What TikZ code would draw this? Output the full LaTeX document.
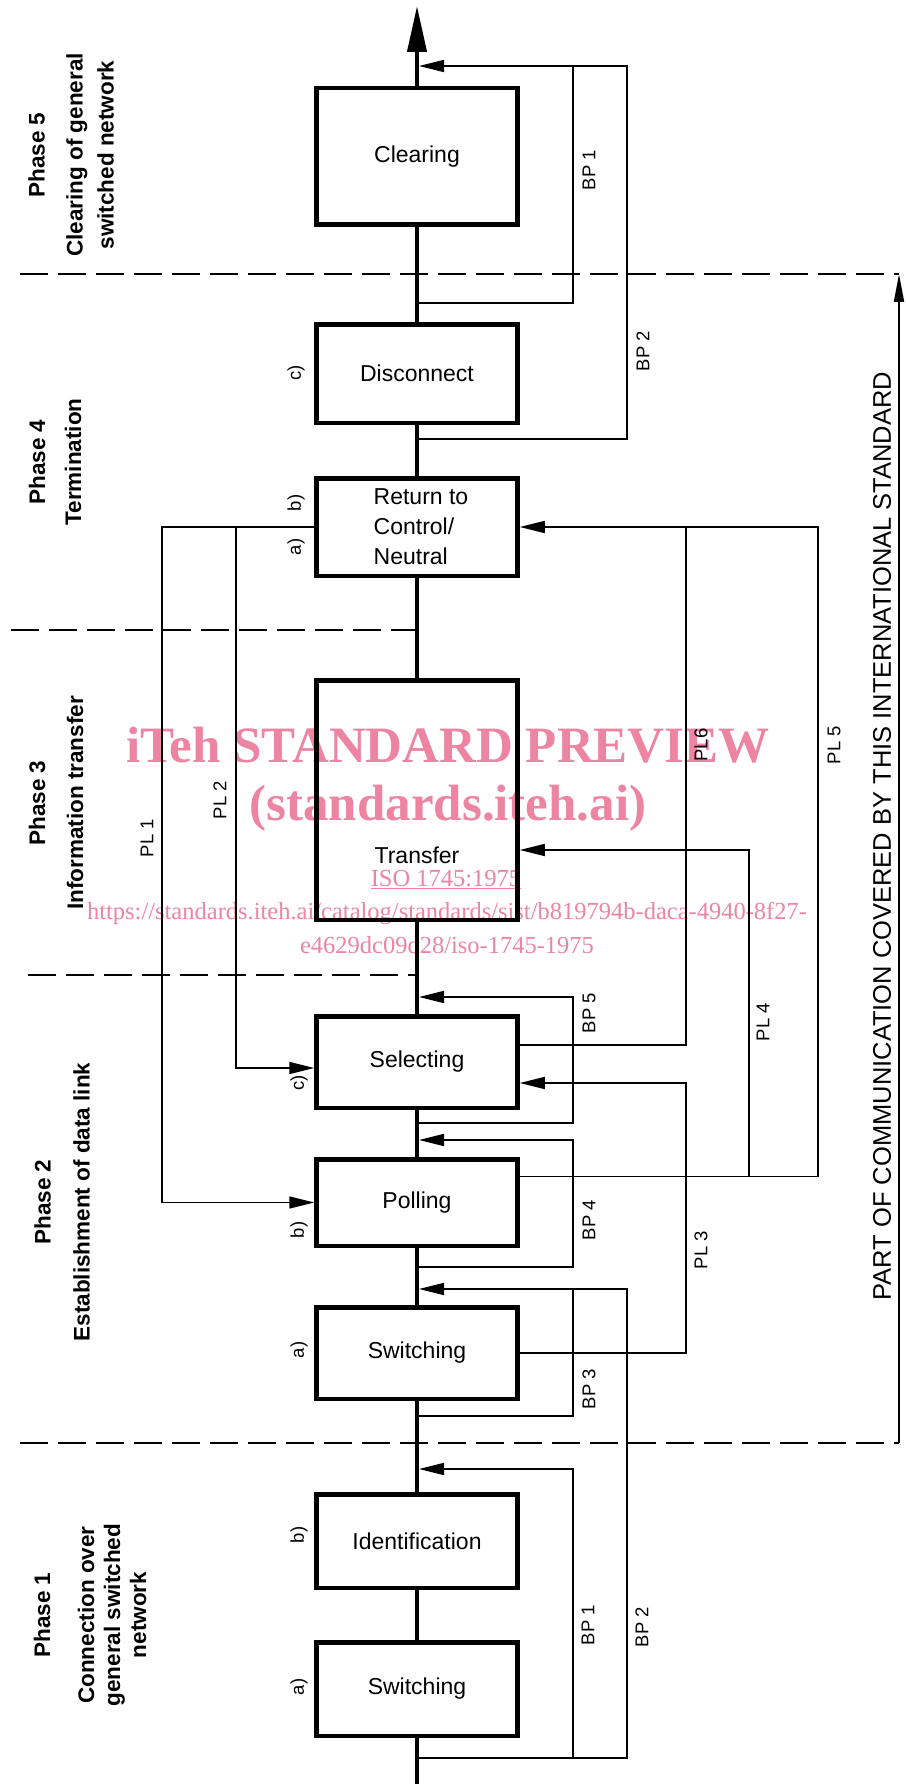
\documentclass[tikz,border=0pt]{standalone}
\usepackage{fontspec}
\setmainfont{Liberation Sans}
\newfontfamily\wmfont{Liberation Serif}
\usetikzlibrary{arrows.meta}
\definecolor{wmpink}{RGB}{236,132,162}

\begin{document}
\begin{tikzpicture}[x=1pt, y=-1pt,
    every node/.style={font=\fontsize{18.5}{22}\selectfont, inner sep=0pt},
    blok/.style={draw, line width=4.5pt, fill=white, minimum width=201pt,
        font=\fontsize{23}{30}\selectfont},
    lettr/.style={rotate=90},
    phasetxt/.style={rotate=90, align=center, font=\bfseries\fontsize{22.5}{26}\selectfont},
    mainln/.style={line width=4pt},
    fbln/.style={line width=1.6pt},
    arr/.style={-{Triangle[length=25pt,width=12pt]}},
    phaseln/.style={line width=2.2pt, dash pattern=on 28pt off 10pt},
    wmark/.style={text=wmpink, font=\wmfont\fontsize{24.5}{25}\selectfont}]
    \useasboundingbox (0,0) rectangle (905,1784);

    % Блоки
    \node[blok, minimum height=136.5pt] (clr) at (417,156.5) {Clearing};
    \node[blok, minimum height=98.5pt] (dis) at (417,373.5) {Disconnect};
    \node[blok, minimum height=97.5pt] (ret) at (417,527) {};
    \node[align=left, font=\fontsize{23}{30}\selectfont] (rett) at (421,527) {Return to\\Control/\\Neutral};
    \node[blok, minimum height=239.5pt] (trf) at (417,800) {};
    \node[font=\fontsize{23}{30}\selectfont] (trft) at (417,855) {Transfer};
    \node[blok, minimum height=91.5pt] (sel) at (417,1062) {Selecting};
    \node[blok, minimum height=86.5pt] (pol) at (417,1202.5) {Polling};
    \node[blok, minimum height=91.5pt] (swb) at (417,1353) {Switching};
    \node[blok, minimum height=93.5pt] (idn) at (417,1541) {Identification};
    \node[blok, minimum height=93.5pt] (swa) at (417,1689) {Switching};

    % Главная линия
    \coordinate (top) at (417,6);
    \coordinate (bot) at (417,1784);
    \draw[mainln, -{Triangle[length=46pt,width=19pt]}] (clr.north) -- (top);
    \draw[mainln] (clr.south) -- (dis.north) (dis.south) -- (ret.north)
        (ret.south) -- (trf.north) (trf.south) -- (sel.north)
        (sel.south) -- (pol.north) (pol.south) -- (swb.north)
        (swb.south) -- (idn.north) (idn.south) -- (swa.north)
        (swa.south) -- (bot);

    % Обходы BP, фаза 5
    \coordinate (bp1s) at (417,303);
    \coordinate (bp2s) at (417,439);
    \coordinate (bpin) at (419,66);
    \draw[fbln, arr] (bp1s) -| (573,66) -- (bpin);
    \draw[fbln] (bp2s) -| (627,66) -- (573,66);

    % Обходы BP, фазы 1 и 2
    \coordinate (bp5in) at (419,997);
    \coordinate (bp5s) at (417,1123);
    \coordinate (bp4in) at (419,1140);
    \coordinate (bp4s) at (417,1267);
    \coordinate (bp3in) at (419,1289);
    \coordinate (bp3s) at (417,1416);
    \coordinate (bp1in) at (419,1469);
    \coordinate (bp0s) at (417,1758);
    \draw[fbln, arr] (bp5s) -| (573,997) -- (bp5in);
    \draw[fbln, arr] (bp4s) -| (573,1140) -- (bp4in);
    \draw[fbln, arr] (bp3s) -| (573,1289) -- (bp3in);
    \draw[fbln, arr] (bp0s) -| (573,1469) -- (bp1in);
    \draw[fbln] (bp0s) -| (627,1289) -- (573,1289);

    % Линии PL
    \draw[fbln, arr] (ret.west) -| (162,1202.5) -- (pol.west);
    \draw[fbln, arr] (236,527) |- ([yshift=-6pt]sel.west);
    \draw[fbln, arr] ([yshift=17pt]sel.east) -| (686,527) -- (ret.east);
    \draw[fbln] ([yshift=26pt]pol.east) -| (818,527) -- (686,527);
    \draw[fbln, arr] (749,1176.5) |- ([yshift=-50pt]trf.east);
    \draw[fbln, arr] (swb.east) -| (686,1083) -- ([yshift=-21pt]sel.east);

    % Подписи линий
    \node[lettr] (lbp1) at (589,170) {BP 1};
    \node[lettr] (lbp2) at (643,351) {BP 2};
    \node[lettr] (lpl1) at (147,838) {PL 1};
    \node[lettr] (lpl2) at (220,800) {PL 2};
    \node[lettr] (lpl6) at (701,745) {PL6};
    \node[lettr] (lpl5) at (834,745) {PL 5};
    \node[lettr] (lpl4) at (763,1022) {PL 4};
    \node[lettr] (lbp5) at (589,1013) {BP 5};
    \node[lettr] (lbp4) at (589,1220) {BP 4};
    \node[lettr] (lpl3) at (701,1250) {PL 3};
    \node[lettr] (lbp3) at (589,1389) {BP 3};
    \node[lettr] (lbp1b) at (588,1625) {BP 1};
    \node[lettr] (lbp2b) at (642,1627) {BP 2};

    % Буквы у блоков
    \node[lettr] (ldis) at (296,373) {c)};
    \node[lettr] (lretb) at (296,503) {b)};
    \node[lettr] (lreta) at (296,547) {a)};
    \node[lettr] (lsel) at (299,1083) {c)};
    \node[lettr] (lpol) at (299,1230) {b)};
    \node[lettr] (lswb) at (299,1350) {a)};
    \node[lettr] (lidn) at (299,1535) {b)};
    \node[lettr] (lswa) at (299,1687) {a)};

    % Границы фаз
    \draw[phaseln] (20,274) -- (899,274);
    \draw[phaseln] (11,630) -- (417,630);
    \draw[phaseln] (28,975) -- (417,975);
    \draw[phaseln] (20,1443) -- (899,1443);

    % Фазы
    \node[phasetxt] (ph5) at (71,155) {Phase 5\\[12pt]Clearing of general\\[5pt]switched network};
    \node[phasetxt] (ph4) at (55,462) {Phase 4\\[10pt]Termination};
    \node[phasetxt] (ph3) at (56,803) {Phase 3\\[12pt]Information transfer};
    \node[phasetxt] (ph2) at (62,1202) {Phase 2\\[13pt]Establishment of data link};
    \node[phasetxt] (ph1) at (90,1615) {Phase 1\\[18pt]Connection over\\general switched\\network};

    % Область стандарта
    \coordinate (scb) at (899,1443);
    \coordinate (sct) at (899,274);
    \draw[line width=2pt, -{Triangle[length=28pt,width=10pt]}] (scb) -- (sct);
    \node[rotate=90, font=\fontsize{25.5}{30}\selectfont] (scope) at (882,836)
        {PART OF COMMUNICATION COVERED BY THIS INTERNATIONAL STANDARD};

    % Водяной знак
    \begin{scope}[blend mode=multiply]
    \node[wmark, font=\wmfont\bfseries\fontsize{51}{51}\selectfont] (wm1) at (448,745) {iTeh STANDARD PREVIEW};
    \node[wmark, font=\wmfont\bfseries\fontsize{51}{51}\selectfont] (wm2) at (448,808) {(standards.iteh.ai)};
    \node[wmark] (wm3) at (446,880) {\underline{ISO 1745:1975}};
    \node[wmark] (wm4) at (447,914) {https://standards.iteh.ai/catalog/standards/sist/b819794b-daca-4940-8f27-};
    \node[wmark] (wm5) at (447,945) {e4629dc09d28/iso-1745-1975};
    \end{scope}
\end{tikzpicture}
\end{document}
